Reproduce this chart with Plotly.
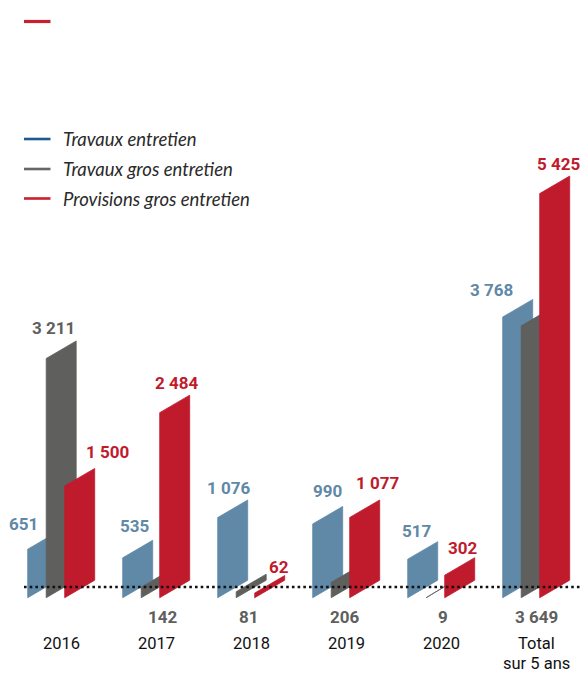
import plotly.graph_objects as go

# ---------------- data ----------------
categories = ["2016", "2017", "2018", "2019", "2020", "Total", ]
category_sublines = ["", "", "", "", "", "sur 5 ans"]
series_names = ["Travaux entretien", "Travaux gros entretien", "Provisions gros entretien"]
travaux_entretien = [651, 535, 1076, 990, 517, 3768]
travaux_gros_entretien = [3211, 142, 81, 206, 9, 3649]
provisions_gros_entretien = [1500, 2484, 62, 1077, 302, 5425]
value_labels_blue = ["651", "535", "1 076", "990", "517", "3 768"]
value_labels_gray = ["3 211", "142", "81", "206", "9", "3 649"]
value_labels_red = ["1 500", "2 484", "62", "1 077", "302", "5 425"]

# ---------------- styling / geometry ----------------
bar_colors = ["#5f89a7", "#5f5f5e", "#c01b2d"]
legend_colors = ["#1c5a8f", "#666666", "#c8202f"]
W, H = 582, 673
K = 0.0745            # px per value unit
BASE_PX = 597.7       # pixel y of bar bottom-left
SKEW_PX = 17.5        # vertical rise across bar width
BAR_W = 30.0
GROUP_X0 = 27.7
GROUP_STEP = 95.0
SERIES_STEP = 18.5

def v_of_px(py):
    return (BASE_PX - py) / K

skew_v = SKEW_PX / K
y_range = [v_of_px(H), v_of_px(0)]

series = [travaux_entretien, travaux_gros_entretien, provisions_gros_entretien]
labels = [value_labels_blue, value_labels_gray, value_labels_red]
# label horizontal offsets (px, relative to bar left) and vertical gap (px above top-left)
label_dx = [[-4.7, 12.3, 10.3, 14.6, 9, -11],
            [6.8, 21.3, 12.8, 13.8, 16.5, 14.8],
            [42.8, 17, 24.3, 27.3, 17.8, 19]]
label_gap = [[25, 32, 30, 33, 28, 27],
             [30, 0, 0, 0, 0, 0],
             [34, 30, 26, 34, 27, 30]]
gray_below = [False, True, True, True, True, True]
BELOW_PX = 616.7

fig = go.Figure()
annotations = []
for s, vals in enumerate(series):
    for i, v in enumerate(vals):
        xl = GROUP_X0 + GROUP_STEP * i + SERIES_STEP * s
        xr = xl + BAR_W
        xs = [xl, xr, xr, xl, xl]
        ys = [0, skew_v, skew_v + v, v, 0]
        fig.add_trace(go.Scatter(
            x=xs, y=ys, mode="lines", fill="toself",
            fillcolor=bar_colors[s], line=dict(color=bar_colors[s], width=0.8),
            showlegend=False, hoverinfo="skip"))
        if s == 1 and gray_below[i]:
            ly = v_of_px(BELOW_PX)
        else:
            ly = v + label_gap[s][i] / K
        annotations.append(dict(
            x=xl + label_dx[s][i], y=ly, xref="x", yref="y",
            text="<b>%s</b>" % labels[s][i], showarrow=False,
            xanchor="center", yanchor="middle",
            font=dict(family="Roboto, Liberation Sans, sans-serif", size=17,
                      color=bar_colors[s])))

# category labels
cat_font = dict(family="Roboto, Liberation Sans, sans-serif", size=16.5, color="#111111")
for i, c in enumerate(categories):
    cx = GROUP_X0 + GROUP_STEP * i + 34
    annotations.append(dict(
        x=cx, y=v_of_px(643), xref="x", yref="y",
        text=c, showarrow=False, xanchor="center", yanchor="middle", font=cat_font))
    if category_sublines[i]:
        annotations.append(dict(
            x=cx, y=v_of_px(663), xref="x", yref="y",
            text=category_sublines[i], showarrow=False, xanchor="center",
            yanchor="middle", font=cat_font))

shapes = []
# dotted baseline
shapes.append(dict(type="line", xref="x", yref="y", x0=24, x1=582,
                   y0=v_of_px(587), y1=v_of_px(587),
                   line=dict(color="#111111", width=2.6, dash="2.6px,3.1px")))
# lone red dash at top
shapes.append(dict(type="line", xref="x", yref="y", x0=24, x1=50.5,
                   y0=v_of_px(21.5), y1=v_of_px(21.5),
                   line=dict(color=legend_colors[2], width=3.2)))
# custom legend
legend_y = [139, 169, 198.5]
for n, name in enumerate(series_names):
    shapes.append(dict(type="line", xref="x", yref="y", x0=24, x1=50.5,
                       y0=v_of_px(legend_y[n]), y1=v_of_px(legend_y[n]),
                       line=dict(color=legend_colors[n], width=2.6)))
    annotations.append(dict(
        x=61, y=v_of_px(legend_y[n]), xref="x", yref="y",
        text="<i>%s</i>" % name, showarrow=False, xanchor="left", yanchor="middle",
        font=dict(family="Lato, Open Sans, sans-serif", size=18.5, color="#2a2a2a")))

fig.update_layout(
    width=W, height=H, margin=dict(l=0, r=0, t=0, b=0),
    paper_bgcolor="white", plot_bgcolor="white",
    xaxis=dict(range=[0, W], visible=False, fixedrange=True),
    yaxis=dict(range=y_range, visible=False, fixedrange=True),
    annotations=annotations, shapes=shapes, showlegend=False)

fig.write_html("out.html", config={"displayModeBar": False})
